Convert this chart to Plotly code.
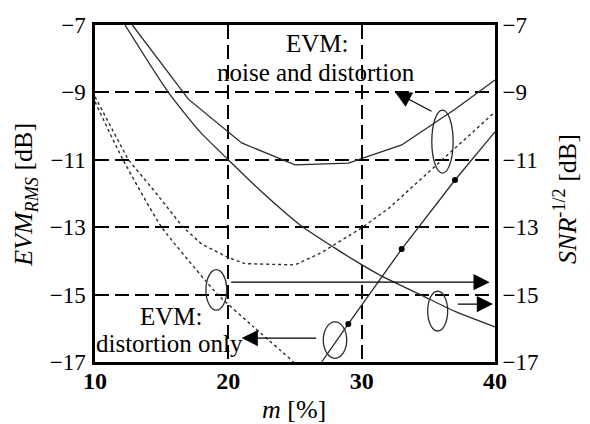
import plotly.graph_objects as go

FONT = "Liberation Serif"
INK = "#2a2a2a"

# ---- data ----
# EVM: noise and distortion (solid)
evm_nd_x = [12.8, 17, 21, 25, 29, 33, 37, 40]
evm_nd_y = [-7.0, -9.2, -10.5, -11.15, -11.1, -10.56, -9.5, -8.63]

# decreasing solid curve
dec_x = [12.25, 15.5, 17.9, 20, 22.5, 25.4, 28, 29.65, 31.5, 34.4, 37, 40]
dec_y = [-7.0, -9.0, -10.18, -11.0, -11.95, -12.94, -13.62, -14.03, -14.45, -15.0, -15.5, -15.96]

# dotted upper curve
dot_up_x = [10, 12.5, 14.5, 16.6, 18, 20, 21.25, 25, 27, 30, 32, 40]
dot_up_y = [-9.13, -11.0, -11.95, -13.0, -13.5, -13.9, -14.08, -14.12, -13.75, -13.02, -12.45, -9.58]

# dotted lower curve (EVM distortion only)
dot_lo_x = [10, 12.1, 15, 18.25, 19.2, 21.9, 24.9]
dot_lo_y = [-9.28, -11.0, -13.0, -14.57, -15.0, -15.96, -17.0]

# rising SNR^-1/2 line with markers
snr_x = [27, 29, 33, 37, 40]
snr_y = [-17.0, -15.87, -13.65, -11.6, -10.17]
snr_mx = [29, 33, 37]
snr_my = [-15.87, -13.65, -11.6]

x_ticks = [10, 20, 30, 40]
y_ticks = [-7, -9, -11, -13, -15, -17]

fig = go.Figure()
line = dict(color=INK, width=1.3)
fig.add_trace(go.Scatter(x=evm_nd_x, y=evm_nd_y, mode="lines", line=line))
fig.add_trace(go.Scatter(x=dec_x, y=dec_y, mode="lines", line=dict(color=INK, width=1.3, shape="spline", smoothing=0.6)))
fig.add_trace(go.Scatter(x=dot_up_x, y=dot_up_y, mode="lines", line=dict(color=INK, width=1.4, dash="dot")))
fig.add_trace(go.Scatter(x=dot_lo_x, y=dot_lo_y, mode="lines", line=dict(color=INK, width=1.4, dash="dot", shape="spline", smoothing=0.5)))
fig.add_trace(go.Scatter(x=snr_x, y=snr_y, mode="lines", line=line))
fig.add_trace(go.Scatter(x=snr_mx, y=snr_my, mode="markers", marker=dict(color="black", size=6)))
fig.add_trace(go.Scatter(x=[10], y=[-7], yaxis="y2", mode="lines", hoverinfo="skip"))

# ellipses
ellipses = [(36.06, -10.46, 0.8, 0.935), (19.1, -14.86, 0.78, 0.6),
            (35.7, -15.49, 0.75, 0.59), (28.0, -16.35, 0.88, 0.54)]
for cx, cy, rx, ry in ellipses:
    fig.add_shape(type="circle", xref="x", yref="y", x0=cx - rx, x1=cx + rx,
                  y0=cy - ry, y1=cy + ry, line=dict(color=INK, width=1.3), layer="above")

# arrows (head, tail)
arrows = [((32.5, -8.99), (35.35, -9.58)),
          ((39.6, -14.63), (20.1, -14.63)),
          ((39.85, -15.28), (37.1, -15.28)),
          ((21.0, -16.29), (26.7, -16.29))]
for (hx, hy), (tx, ty) in arrows:
    fig.add_annotation(x=hx, y=hy, ax=tx, ay=ty, xref="x", yref="y", axref="x", ayref="y",
                       text="", showarrow=True, arrowhead=2, arrowsize=2.7, arrowwidth=1.2,
                       arrowcolor="black", standoff=0, startstandoff=0)

tf = dict(family=FONT, size=25, color="black")
fig.add_annotation(x=26.65, y=-7.56, text="EVM:", showarrow=False, font=tf, xref="x", yref="y")
fig.add_annotation(x=26.6, y=-8.42, text="noise and distortion", showarrow=False, font=tf, xref="x", yref="y")
fig.add_annotation(x=15.74, y=-15.66, text="EVM:", showarrow=False, font=tf, xref="x", yref="y")
fig.add_annotation(x=15.6, y=-16.44, text="distortion only", showarrow=False, font=tf, xref="x", yref="y")

ttl = dict(family=FONT, size=26, color="black")
fig.add_annotation(x=-0.175, y=0.496, xref="paper", yref="paper", textangle=-90,
                   text="<i>EVM</i><sub><i>RMS</i></sub> [dB]", showarrow=False, font=ttl,
                   xanchor="center", yanchor="middle")
fig.add_annotation(x=1.1775, y=0.484, xref="paper", yref="paper", textangle=-90,
                   text="<i>SNR</i><sup>-1/2</sup> [dB]", showarrow=False, font=ttl,
                   xanchor="center", yanchor="middle")
fig.add_annotation(x=0.4975, y=-0.142, xref="paper", yref="paper",
                   text="<i>m</i> [%]", showarrow=False, font=ttl,
                   xanchor="center", yanchor="middle")

grid = dict(showgrid=True, gridcolor="black", gridwidth=2, griddash="14px,6px")
fig.update_layout(
    width=590, height=424,
    margin=dict(l=95, r=95, t=25, b=62),
    paper_bgcolor="white", plot_bgcolor="white",
    showlegend=False,
    xaxis=dict(range=[10, 40], tickvals=x_ticks, ticktext=[f"<b>{v}</b>" for v in x_ticks],
               tickfont=dict(family=FONT, size=24, color="black"),
               showline=True, linecolor="black", linewidth=2.5, mirror=True,
               ticks="", ticklabelstandoff=-5, zeroline=False, **grid),
    yaxis=dict(range=[-17, -7], tickvals=y_ticks,
               tickfont=dict(family=FONT, size=23, color="black"),
               showline=True, linecolor="black", linewidth=2.5, mirror=True,
               ticks="outside", ticklen=2, tickcolor="rgba(0,0,0,0)", zeroline=False, **grid),
    yaxis2=dict(range=[-17, -7], tickvals=y_ticks, overlaying="y", side="right",
                tickfont=dict(family=FONT, size=23, color="black"),
                showgrid=False, zeroline=False, showline=False,
                ticks="outside", ticklen=2, tickcolor="rgba(0,0,0,0)"),
)

fig.write_html("out.html")
